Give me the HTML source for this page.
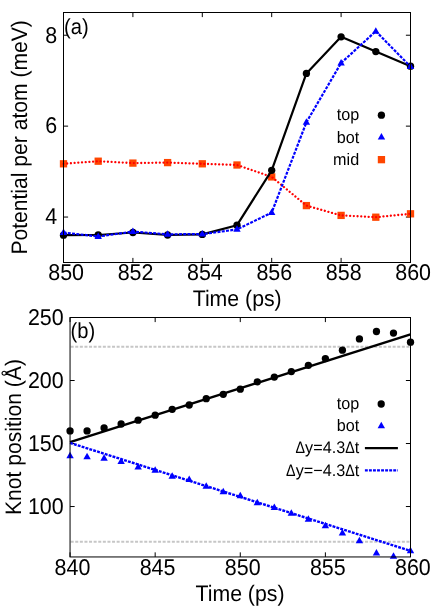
<!DOCTYPE html>
<html><head><meta charset="utf-8"><title>plot</title>
<style>
html,body{margin:0;padding:0;background:#fff;}
svg{display:block;font-family:"Liberation Sans", sans-serif;}
text{fill:#000;text-rendering:geometricPrecision;}
svg{will-change:transform;}
</style></head><body>
<svg width="436" height="610" viewBox="0 0 436 610">
<rect width="436" height="610" fill="#fff"/>
<path d="M63.50,262.5v-4.6M63.50,12.5v4.6M132.90,262.5v-4.6M132.90,12.5v4.6M202.30,262.5v-4.6M202.30,12.5v4.6M271.70,262.5v-4.6M271.70,12.5v4.6M341.10,262.5v-4.6M341.10,12.5v4.6M410.50,262.5v-4.6M410.50,12.5v4.6M63.5,217.05h4.6M410.5,217.05h-4.6M63.5,126.14h4.6M410.5,126.14h-4.6M63.5,35.23h4.6M410.5,35.23h-4.6" stroke="#000" stroke-width="1" fill="none"/>
<rect x="59.85" y="160.15" width="7.3" height="7.3" fill="#ff4500"/>
<rect x="94.55" y="157.55" width="7.3" height="7.3" fill="#ff4500"/>
<rect x="129.25" y="159.45" width="7.3" height="7.3" fill="#ff4500"/>
<rect x="163.95" y="158.95" width="7.3" height="7.3" fill="#ff4500"/>
<rect x="198.65" y="160.15" width="7.3" height="7.3" fill="#ff4500"/>
<rect x="233.35" y="161.35" width="7.3" height="7.3" fill="#ff4500"/>
<rect x="268.05" y="173.25" width="7.3" height="7.3" fill="#ff4500"/>
<rect x="302.75" y="201.95" width="7.3" height="7.3" fill="#ff4500"/>
<rect x="337.45" y="211.75" width="7.3" height="7.3" fill="#ff4500"/>
<rect x="372.15" y="213.55" width="7.3" height="7.3" fill="#ff4500"/>
<rect x="406.85" y="210.15" width="7.3" height="7.3" fill="#ff4500"/>
<polyline points="63.50,163.80 98.20,161.20 132.90,163.10 167.60,162.60 202.30,163.80 237.00,165.00 271.70,176.90 306.40,205.60 341.10,215.40 375.80,217.20 410.50,213.80" fill="none" stroke="#ff0000" stroke-width="2.3" stroke-dasharray="0.01 3.7" stroke-linecap="round"/>
<polyline points="63.50,235.20 98.20,235.00 132.90,232.50 167.60,235.00 202.30,234.40 237.00,225.20 271.70,170.30 306.40,73.40 341.10,36.80 375.80,51.60 410.50,66.20" fill="none" stroke="#000" stroke-width="2.2" stroke-linejoin="round"/>
<circle cx="63.50" cy="235.20" r="3.65" fill="#000"/>
<circle cx="98.20" cy="235.00" r="3.65" fill="#000"/>
<circle cx="132.90" cy="232.50" r="3.65" fill="#000"/>
<circle cx="167.60" cy="235.00" r="3.65" fill="#000"/>
<circle cx="202.30" cy="234.40" r="3.65" fill="#000"/>
<circle cx="237.00" cy="225.20" r="3.65" fill="#000"/>
<circle cx="271.70" cy="170.30" r="3.65" fill="#000"/>
<circle cx="306.40" cy="73.40" r="3.65" fill="#000"/>
<circle cx="341.10" cy="36.80" r="3.65" fill="#000"/>
<circle cx="375.80" cy="51.60" r="3.65" fill="#000"/>
<circle cx="410.50" cy="66.20" r="3.65" fill="#000"/>
<polyline points="63.50,232.50 98.20,236.50 132.90,231.60 167.60,234.30 202.30,234.10 237.00,229.40 271.70,212.60 306.40,122.30 341.10,63.00 375.80,31.20 410.50,66.60" fill="none" stroke="#0000ff" stroke-width="2.2" stroke-dasharray="3 1.3"/>
<polygon points="63.50,228.45 59.80,234.95 67.20,234.95" fill="#0000ff"/>
<polygon points="98.20,232.45 94.50,238.95 101.90,238.95" fill="#0000ff"/>
<polygon points="132.90,227.55 129.20,234.05 136.60,234.05" fill="#0000ff"/>
<polygon points="167.60,230.25 163.90,236.75 171.30,236.75" fill="#0000ff"/>
<polygon points="202.30,230.05 198.60,236.55 206.00,236.55" fill="#0000ff"/>
<polygon points="237.00,225.35 233.30,231.85 240.70,231.85" fill="#0000ff"/>
<polygon points="271.70,208.55 268.00,215.05 275.40,215.05" fill="#0000ff"/>
<polygon points="306.40,118.25 302.70,124.75 310.10,124.75" fill="#0000ff"/>
<polygon points="341.10,58.95 337.40,65.45 344.80,65.45" fill="#0000ff"/>
<polygon points="375.80,27.15 372.10,33.65 379.50,33.65" fill="#0000ff"/>
<polygon points="410.50,62.55 406.80,69.05 414.20,69.05" fill="#0000ff"/>
<rect x="63.5" y="12.5" width="347.0" height="250.0" fill="none" stroke="#000" stroke-width="1"/>
<text transform="translate(66.10,280.40) scale(0.94,1)" font-size="22.8" text-anchor="middle">850</text>
<text transform="translate(135.50,280.40) scale(0.94,1)" font-size="22.8" text-anchor="middle">852</text>
<text transform="translate(204.90,280.40) scale(0.94,1)" font-size="22.8" text-anchor="middle">854</text>
<text transform="translate(274.30,280.40) scale(0.94,1)" font-size="22.8" text-anchor="middle">856</text>
<text transform="translate(343.70,280.40) scale(0.94,1)" font-size="22.8" text-anchor="middle">858</text>
<text transform="translate(413.10,280.40) scale(0.94,1)" font-size="22.8" text-anchor="middle">860</text>
<text transform="translate(57.20,224.35) scale(0.94,1)" font-size="22.8" text-anchor="end">4</text>
<text transform="translate(57.20,133.44) scale(0.94,1)" font-size="22.8" text-anchor="end">6</text>
<text transform="translate(57.20,42.53) scale(0.94,1)" font-size="22.8" text-anchor="end">8</text>
<text transform="translate(237.20,306.10) scale(0.95,1)" font-size="22.4" text-anchor="middle">Time (ps)</text>
<text transform="translate(27.40,137.40) rotate(-90) scale(0.942,1)" font-size="22.4" text-anchor="middle">Potential per atom (meV)</text>
<text transform="translate(64.00,33.50) scale(0.925,1)" font-size="21.8" text-anchor="start">(a)</text>
<text transform="translate(359.20,119.80) scale(0.97,1)" font-size="16.7" text-anchor="end">top</text>
<text transform="translate(359.20,142.60) scale(0.97,1)" font-size="16.7" text-anchor="end">bot</text>
<text transform="translate(359.20,164.60) scale(0.97,1)" font-size="16.7" text-anchor="end">mid</text>
<circle cx="381.40" cy="115.20" r="3.65" fill="#000"/>
<polygon points="381.45,133.10 377.75,139.60 385.15,139.60" fill="#0000ff"/>
<rect x="377.80" y="156.00" width="7.3" height="7.3" fill="#ff4500"/>
<line x1="70.64999999999999" y1="346.7" x2="410.5" y2="346.7" stroke="#c6c6c6" stroke-width="1.9" stroke-dasharray="3 1.6"/>
<line x1="70.64999999999999" y1="541.8" x2="410.5" y2="541.8" stroke="#c6c6c6" stroke-width="1.9" stroke-dasharray="3 1.6"/>
<path d="M70.05,556.95v-4.6M70.05,317.5v4.6M155.16,556.95v-4.6M155.16,317.5v4.6M240.27,556.95v-4.6M240.27,317.5v4.6M325.39,556.95v-4.6M325.39,317.5v4.6M410.50,556.95v-4.6M410.50,317.5v4.6M70.05,506.54h4.6M410.5,506.54h-4.6M70.05,443.53h4.6M410.5,443.53h-4.6M70.05,380.51h4.6M410.5,380.51h-4.6M70.05,317.50h4.6M410.5,317.50h-4.6" stroke="#000" stroke-width="1" fill="none"/>
<circle cx="70.05" cy="430.90" r="3.65" fill="#000"/>
<circle cx="87.07" cy="430.90" r="3.65" fill="#000"/>
<circle cx="104.09" cy="427.90" r="3.65" fill="#000"/>
<circle cx="121.12" cy="424.00" r="3.65" fill="#000"/>
<circle cx="138.14" cy="420.20" r="3.65" fill="#000"/>
<circle cx="155.16" cy="415.20" r="3.65" fill="#000"/>
<circle cx="172.19" cy="409.30" r="3.65" fill="#000"/>
<circle cx="189.21" cy="405.00" r="3.65" fill="#000"/>
<circle cx="206.23" cy="398.70" r="3.65" fill="#000"/>
<circle cx="223.25" cy="394.30" r="3.65" fill="#000"/>
<circle cx="240.27" cy="389.20" r="3.65" fill="#000"/>
<circle cx="257.30" cy="381.80" r="3.65" fill="#000"/>
<circle cx="274.32" cy="377.10" r="3.65" fill="#000"/>
<circle cx="291.34" cy="371.60" r="3.65" fill="#000"/>
<circle cx="308.37" cy="365.30" r="3.65" fill="#000"/>
<circle cx="325.39" cy="358.60" r="3.65" fill="#000"/>
<circle cx="342.41" cy="350.20" r="3.65" fill="#000"/>
<circle cx="359.43" cy="338.90" r="3.65" fill="#000"/>
<circle cx="376.45" cy="331.50" r="3.65" fill="#000"/>
<circle cx="393.48" cy="333.10" r="3.65" fill="#000"/>
<circle cx="410.50" cy="342.20" r="3.65" fill="#000"/>
<polygon points="70.05,451.75 66.35,458.25 73.75,458.25" fill="#0000ff"/>
<polygon points="87.07,452.75 83.37,459.25 90.77,459.25" fill="#0000ff"/>
<polygon points="104.09,454.25 100.39,460.75 107.80,460.75" fill="#0000ff"/>
<polygon points="121.12,457.55 117.42,464.05 124.82,464.05" fill="#0000ff"/>
<polygon points="138.14,463.05 134.44,469.55 141.84,469.55" fill="#0000ff"/>
<polygon points="155.16,466.35 151.46,472.85 158.86,472.85" fill="#0000ff"/>
<polygon points="172.19,472.25 168.49,478.75 175.88,478.75" fill="#0000ff"/>
<polygon points="189.21,475.55 185.51,482.05 192.91,482.05" fill="#0000ff"/>
<polygon points="206.23,482.15 202.53,488.65 209.93,488.65" fill="#0000ff"/>
<polygon points="223.25,487.65 219.55,494.15 226.95,494.15" fill="#0000ff"/>
<polygon points="240.27,491.75 236.57,498.25 243.97,498.25" fill="#0000ff"/>
<polygon points="257.30,498.65 253.60,505.15 261.00,505.15" fill="#0000ff"/>
<polygon points="274.32,503.45 270.62,509.95 278.02,509.95" fill="#0000ff"/>
<polygon points="291.34,509.35 287.64,515.85 295.04,515.85" fill="#0000ff"/>
<polygon points="308.37,515.15 304.67,521.65 312.06,521.65" fill="#0000ff"/>
<polygon points="325.39,521.65 321.69,528.15 329.09,528.15" fill="#0000ff"/>
<polygon points="342.41,529.05 338.71,535.55 346.11,535.55" fill="#0000ff"/>
<polygon points="359.43,536.75 355.73,543.25 363.13,543.25" fill="#0000ff"/>
<polygon points="376.45,549.05 372.75,555.55 380.15,555.55" fill="#0000ff"/>
<polygon points="393.48,552.35 389.78,558.85 397.18,558.85" fill="#0000ff"/>
<polygon points="410.50,546.85 406.80,553.35 414.20,553.35" fill="#0000ff"/>
<line x1="70.05" y1="442.2" x2="410.5" y2="334.3" stroke="#000" stroke-width="2.4"/>
<line x1="70.05" y1="442.9" x2="410.5" y2="550.9" stroke="#0000ff" stroke-width="2.4" stroke-dasharray="2.9 1.15"/>
<rect x="70.05" y="317.5" width="340.45" height="239.45000000000005" fill="none" stroke="#000" stroke-width="1"/>
<text transform="translate(72.45,574.70) scale(0.94,1)" font-size="22.8" text-anchor="middle">840</text>
<text transform="translate(157.56,574.70) scale(0.94,1)" font-size="22.8" text-anchor="middle">845</text>
<text transform="translate(242.67,574.70) scale(0.94,1)" font-size="22.8" text-anchor="middle">850</text>
<text transform="translate(327.79,574.70) scale(0.94,1)" font-size="22.8" text-anchor="middle">855</text>
<text transform="translate(412.90,574.70) scale(0.94,1)" font-size="22.8" text-anchor="middle">860</text>
<text transform="translate(63.70,513.84) scale(0.94,1)" font-size="22.8" text-anchor="end">100</text>
<text transform="translate(63.70,450.83) scale(0.94,1)" font-size="22.8" text-anchor="end">150</text>
<text transform="translate(63.70,387.81) scale(0.94,1)" font-size="22.8" text-anchor="end">200</text>
<text transform="translate(63.70,324.80) scale(0.94,1)" font-size="22.8" text-anchor="end">250</text>
<text transform="translate(240.00,600.60) scale(0.95,1)" font-size="22.4" text-anchor="middle">Time (ps)</text>
<text transform="translate(20.50,437.00) rotate(-90) scale(0.942,1)" font-size="22.4" text-anchor="middle">Knot position (Å)</text>
<text transform="translate(70.60,337.60) scale(0.925,1)" font-size="21.8" text-anchor="start">(b)</text>
<text transform="translate(359.20,408.60) scale(0.97,1)" font-size="16.7" text-anchor="end">top</text>
<text transform="translate(359.20,431.10) scale(0.97,1)" font-size="16.7" text-anchor="end">bot</text>
<text transform="translate(359.20,453.30) scale(0.97,1)" font-size="16.7" text-anchor="end">t</text>
<text transform="translate(354.70,453.30) scale(0.8536,1)" font-size="16.7" text-anchor="end">Δ</text>
<text transform="translate(345.17,453.30) scale(0.97,1)" font-size="16.7" text-anchor="end">y=4.3</text>
<text transform="translate(305.10,453.30) scale(0.8536,1)" font-size="16.7" text-anchor="end">Δ</text>
<text transform="translate(359.20,475.70) scale(0.97,1)" font-size="16.7" text-anchor="end">t</text>
<text transform="translate(354.70,475.70) scale(0.8536,1)" font-size="16.7" text-anchor="end">Δ</text>
<text transform="translate(345.17,475.70) scale(0.97,1)" font-size="16.7" text-anchor="end">y=−4.3</text>
<text transform="translate(295.64,475.70) scale(0.8536,1)" font-size="16.7" text-anchor="end">Δ</text>
<circle cx="381.20" cy="404.00" r="3.65" fill="#000"/>
<polygon points="381.30,421.75 377.60,428.25 385.00,428.25" fill="#0000ff"/>
<line x1="364.9" y1="448.2" x2="397.9" y2="448.2" stroke="#000" stroke-width="2.3"/>
<line x1="364.9" y1="470.3" x2="397.9" y2="470.3" stroke="#0000ff" stroke-width="2.3" stroke-dasharray="2.9 1.15"/>
</svg>
</body></html>
